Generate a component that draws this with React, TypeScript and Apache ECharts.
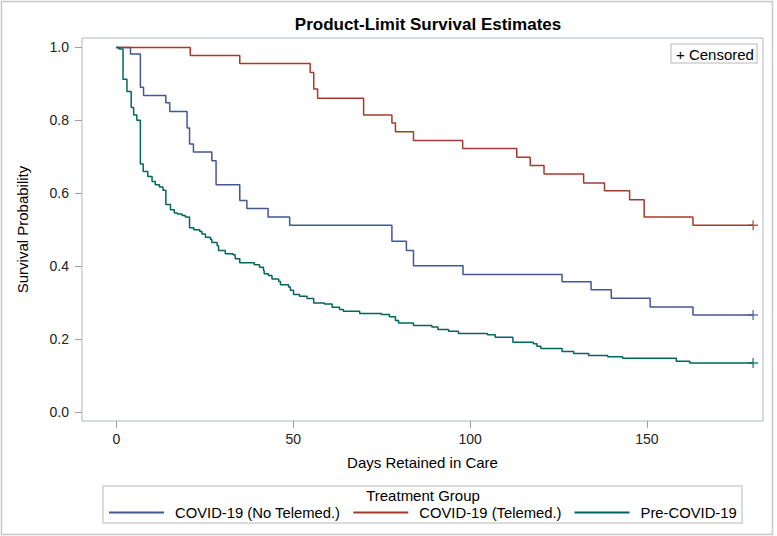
import React, { useEffect, useRef } from "react";
import * as echarts from "echarts";

const seriesNames = ["COVID-19 (No Telemed.)", "COVID-19 (Telemed.)", "Pre-COVID-19"];
const seriesColors = ["#445694", "#A23A2E", "#01665E"];

// COVID-19 (No Telemed.)
const noTeleDays = [0, 4, 6.8, 7.7, 14, 15.1, 20, 20.7, 21.8, 27, 28.2, 34.9, 36.9, 42.9, 49, 77.9, 82, 84, 98, 126, 134.2, 139.9, 150.9, 163, 180];
const noTeleSurv = [1, 0.982, 0.891, 0.868, 0.848, 0.824, 0.779, 0.735, 0.713, 0.689, 0.623, 0.58, 0.558, 0.535, 0.512, 0.468, 0.443, 0.401, 0.377, 0.357, 0.335, 0.312, 0.288, 0.266, 0.266];

// COVID-19 (Telemed.)
const teleDays = [0, 20.9, 34.9, 54.8, 55.8, 56.9, 69.9, 77.9, 78.9, 84, 97.9, 113.2, 117, 120.9, 132.1, 138, 145.1, 149.2, 163, 180];
const teleSurv = [1, 0.978, 0.956, 0.931, 0.886, 0.861, 0.815, 0.793, 0.769, 0.745, 0.723, 0.699, 0.676, 0.653, 0.628, 0.607, 0.582, 0.535, 0.512, 0.512];

// Pre-COVID-19
const preDays = [0, 0.8, 1.9, 3, 4.2, 4.9, 5.8, 6.8, 7.6, 8.9, 10.1, 11, 12.2, 13.2, 14, 15.3, 16.4, 17.3, 18.6, 19.5, 20.7, 21.9, 23.6, 24.2, 25.2, 26.6, 27, 28.5, 28.9, 30.8, 33, 33.6, 34.9, 39, 40.5, 41.6, 41.8, 43, 44, 45.9, 46.4, 48.7, 49.2, 50.1, 51.8, 53.9, 55.8, 58.8, 61, 63.1, 64.2, 68.8, 74.9, 77.2, 78.9, 79.8, 84, 89.2, 90.9, 93.9, 96.7, 104.9, 107.1, 112.1, 117.9, 118.9, 120, 126, 129.3, 133.5, 138.9, 143.1, 158.3, 162.1, 180];
const preSurv = [1, 0.996, 0.913, 0.879, 0.835, 0.815, 0.8, 0.68, 0.66, 0.646, 0.632, 0.623, 0.617, 0.608, 0.569, 0.555, 0.546, 0.543, 0.539, 0.535, 0.505, 0.5, 0.495, 0.488, 0.479, 0.474, 0.465, 0.456, 0.443, 0.434, 0.431, 0.42, 0.409, 0.404, 0.397, 0.388, 0.379, 0.374, 0.365, 0.358, 0.349, 0.343, 0.334, 0.322, 0.317, 0.311, 0.299, 0.296, 0.287, 0.281, 0.276, 0.27, 0.267, 0.261, 0.251, 0.244, 0.237, 0.233, 0.226, 0.221, 0.215, 0.212, 0.205, 0.191, 0.187, 0.18, 0.174, 0.166, 0.16, 0.155, 0.151, 0.147, 0.139, 0.134, 0.134];

// Censored observations (day, survival) per group
const noTeleCensDays = [180];
const noTeleCensSurv = [0.266];
const teleCensDays = [180];
const teleCensSurv = [0.512];
const preCensDays = [180];
const preCensSurv = [0.134];

const xTicks = [0, 50, 100, 150];
const yTicks = [0, 0.2, 0.4, 0.6, 0.8, 1.0];

const FONT = "'Liberation Sans', Arial, sans-serif";
const PLUS = "path://M4.3,0H5.7V4.3H10V5.7H5.7V10H4.3V5.7H0V4.3H4.3Z";

function zip(a: number[], b: number[]) {
  return a.map((v, i) => [v, b[i]]);
}

export default function App() {
  const ref = useRef<HTMLDivElement>(null);
  useEffect(() => {
    if (!ref.current) return;
    const chart = echarts.init(ref.current, null, { renderer: "svg" });
    const curves = [
      zip(noTeleDays, noTeleSurv),
      zip(teleDays, teleSurv),
      zip(preDays, preSurv),
    ];
    const cens = [
      zip(noTeleCensDays, noTeleCensSurv),
      zip(teleCensDays, teleCensSurv),
      zip(preCensDays, preCensSurv),
    ];
    const series: any[] = [];
    curves.forEach((d, i) => {
      series.push({
        name: seriesNames[i],
        type: "line",
        step: "end",
        data: d,
        showSymbol: false,
        symbol: "none",
        color: seriesColors[i],
        lineStyle: { width: 1.5, color: seriesColors[i] },
        silent: true,
      });
    });
    cens.forEach((d, i) => {
      series.push({
        name: seriesNames[i] + " censored",
        type: "scatter",
        data: d,
        symbol: PLUS,
        symbolSize: 10,
        itemStyle: { color: seriesColors[i] },
        silent: true,
        z: 3,
      });
    });
    const option: any = {
      animation: false,
      backgroundColor: "#ffffff",
      textStyle: { fontFamily: FONT },
      title: {
        text: "Product-Limit Survival Estimates",
        left: 423,
        top: 11,
        textAlign: "center",
        textStyle: { fontFamily: FONT, fontSize: 17, fontWeight: "bold", color: "#000" },
      },
      grid: {
        left: 82,
        right: 14,
        top: 38,
        bottom: 115,
        show: true,
        borderColor: "#AEB5B9",
        borderWidth: 1,
        backgroundColor: "transparent",
        containLabel: false,
      },
      xAxis: {
        type: "value",
        min: -9.7,
        max: 182.8,
        axisLine: { show: false, onZero: false },
        splitLine: { show: false },
        axisTick: { show: true, length: 7, customValues: xTicks, lineStyle: { color: "#9AA0A4" } },
        axisLabel: { customValues: xTicks, margin: 11, fontSize: 14, color: "#222", fontFamily: FONT },
        name: "Days Retained in Care",
        nameLocation: "middle",
        nameGap: 34,
        nameTextStyle: { fontSize: 15, color: "#000", fontFamily: FONT },
      },
      yAxis: {
        type: "value",
        min: -0.025,
        max: 1.026,
        axisLine: { show: false, onZero: false },
        splitLine: { show: false },
        axisTick: { show: true, length: 7, customValues: yTicks, lineStyle: { color: "#9AA0A4" } },
        axisLabel: {
          customValues: yTicks,
          margin: 13,
          fontSize: 14,
          color: "#222",
          fontFamily: FONT,
          formatter: (v: number) => v.toFixed(1),
        },
        name: "Survival Probability",
        nameLocation: "middle",
        nameRotate: 90,
        nameGap: 52,
        nameTextStyle: { fontSize: 15, color: "#000", fontFamily: FONT },
      },
      legend: {
        data: seriesNames,
        left: 109,
        top: 505,
        icon: "rect",
        itemWidth: 55,
        itemHeight: 2,
        itemGap: 13,
        padding: 0,
        textStyle: { fontSize: 14.8, color: "#000", fontFamily: FONT, padding: [0, 0, 0, 6] },
        selectedMode: false,
      },
      graphic: [
        {
          type: "rect",
          shape: { x: 1.5, y: 1.5, width: 771, height: 533 },
          style: { fill: "none", stroke: "#C8C8C8", lineWidth: 1.5 },
          silent: true,
        },
        {
          type: "rect",
          shape: { x: 103, y: 486, width: 639, height: 37 },
          style: { fill: "none", stroke: "#D0D0D0", lineWidth: 1.5 },
          silent: true,
        },
        {
          type: "text",
          x: 423,
          y: 495,
          style: {
            text: "Treatment Group",
            fontSize: 15,
            fontFamily: FONT,
            fill: "#000",
            textAlign: "center",
            textVerticalAlign: "middle",
          },
          silent: true,
        },
        {
          type: "rect",
          shape: { x: 671, y: 44, width: 86, height: 19 },
          style: { fill: "#fff", stroke: "#D0D0D0", lineWidth: 1.5 },
          silent: true,
          z: 10,
        },
        {
          type: "text",
          x: 676,
          y: 54,
          style: {
            text: "+ Censored",
            fontSize: 15,
            fontFamily: FONT,
            fill: "#000",
            textAlign: "left",
            textVerticalAlign: "middle",
          },
          silent: true,
          z: 11,
        },
      ],
      series,
    };
    chart.setOption(option);
    return () => chart.dispose();
  }, []);
  return (
    <div
      ref={ref}
      style={{ position: "fixed", left: 0, top: 0, width: 777, height: 536, background: "#fff" }}
    />
  );
}
